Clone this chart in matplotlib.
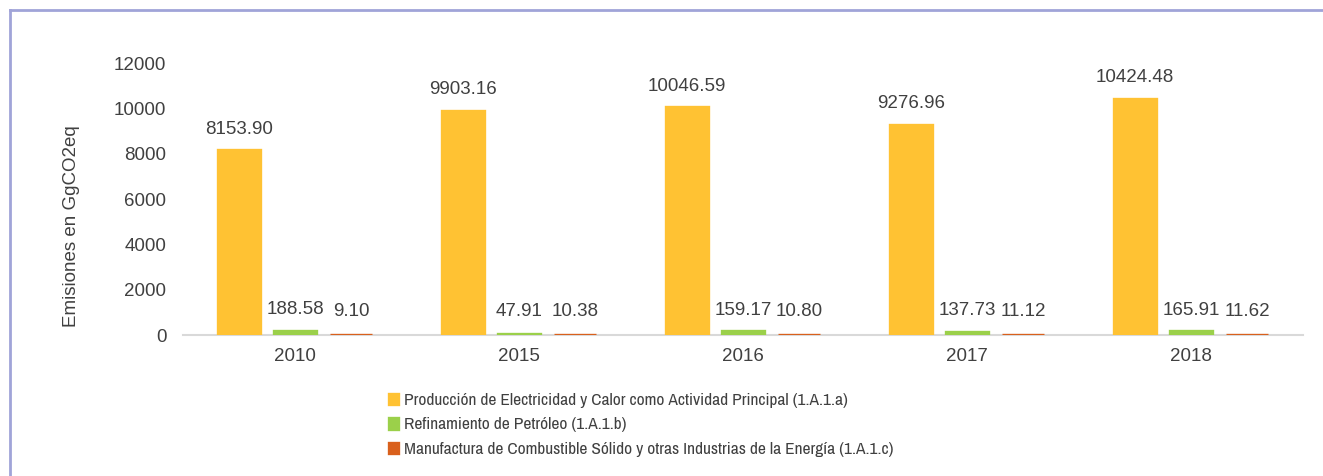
import numpy as np
import matplotlib.pyplot as plt
from matplotlib.lines import Line2D
from matplotlib import font_manager

plt.rcParams['font.family'] = ['Liberation Sans', 'DejaVu Sans']

years = ["2010", "2015", "2016", "2017", "2018"]
electricidad = [8153.90, 9903.16, 10046.59, 9276.96, 10424.48]
refinamiento = [188.58, 47.91, 159.17, 137.73, 165.91]
manufactura = [9.10, 10.38, 10.80, 11.12, 11.62]

series_names = [
    "Producción de Electricidad y Calor como Actividad Principal (1.A.1.a)",
    "Refinamiento de Petróleo (1.A.1.b)",
    "Manufactura de Combustible Sólido y otras Industrias de la Energía (1.A.1.c)",
]
colors = ["#FFC233", "#9BD04A", "#D9601C"]
text_col = "#404040"

# narrow font for the legend, if there is one
narrow = sorted({f.name for f in font_manager.fontManager.ttflist
                 if "Narrow" in f.name or "Condensed" in f.name})

fig = plt.figure(figsize=(13.23, 4.76), dpi=100)
ax = fig.add_axes([0.1383, 0.2962, 0.8466, 0.5714])

x = np.arange(len(years))
width = 0.185
offsets = [-0.25, 0.0, 0.25]

for vals, name, col, off in zip([electricidad, refinamiento, manufactura], series_names, colors, offsets):
    bars = ax.bar(x + off, vals, width, color=col, edgecolor=col, linewidth=2.4,
                  label=name, zorder=3)
    for b, v in zip(bars, vals):
        ax.annotate(f"{v:.2f}", (b.get_x() + b.get_width() / 2, max(v, 120)),
                    xytext=(0, 9), textcoords="offset points",
                    ha="center", va="bottom", fontsize=13.5, color=text_col)

ax.set_xlim(-0.5, len(years) - 0.5)
ax.set_ylim(0, 12000)
ax.set_yticks(np.arange(0, 12001, 2000))
ax.set_xticks(x)
ax.set_xticklabels(years)
ax.tick_params(axis="both", length=0, labelsize=13.5, labelcolor=text_col)
ax.tick_params(axis="y", pad=12)
ax.tick_params(axis="x", pad=9)
for s in ["top", "right", "left"]:
    ax.spines[s].set_visible(False)
ax.spines["bottom"].set_color("#D9D9D9")
ax.spines["bottom"].set_linewidth(1.5)

fig.text(71 / 1323, 1 - 226 / 476, "Emisiones en GgCO2eq", rotation=90,
         ha="center", va="center", fontsize=13.5, color=text_col)

if narrow:
    leg_prop = {"family": [narrow[0], "Liberation Sans"], "size": 12.5}
else:
    leg_prop = {"family": ["Liberation Sans"], "size": 11}
leg = fig.legend(loc="upper left", bbox_to_anchor=(382 / 1323, 1 - 386 / 476),
                 frameon=False, handlelength=0.55, handleheight=0.55,
                 handletextpad=0.3, labelspacing=0.55, borderaxespad=0,
                 prop=leg_prop)
for t in leg.get_texts():
    t.set_color(text_col)

fig.add_artist(Line2D([10 / 1323, 10 / 1323], [0, 1 - 10 / 476], color="#A0A4D8", lw=2,
                      transform=fig.transFigure))
fig.add_artist(Line2D([10 / 1323, 1], [1 - 10 / 476, 1 - 10 / 476], color="#A0A4D8", lw=2,
                      transform=fig.transFigure))

fig.savefig("out.png", dpi=100)
